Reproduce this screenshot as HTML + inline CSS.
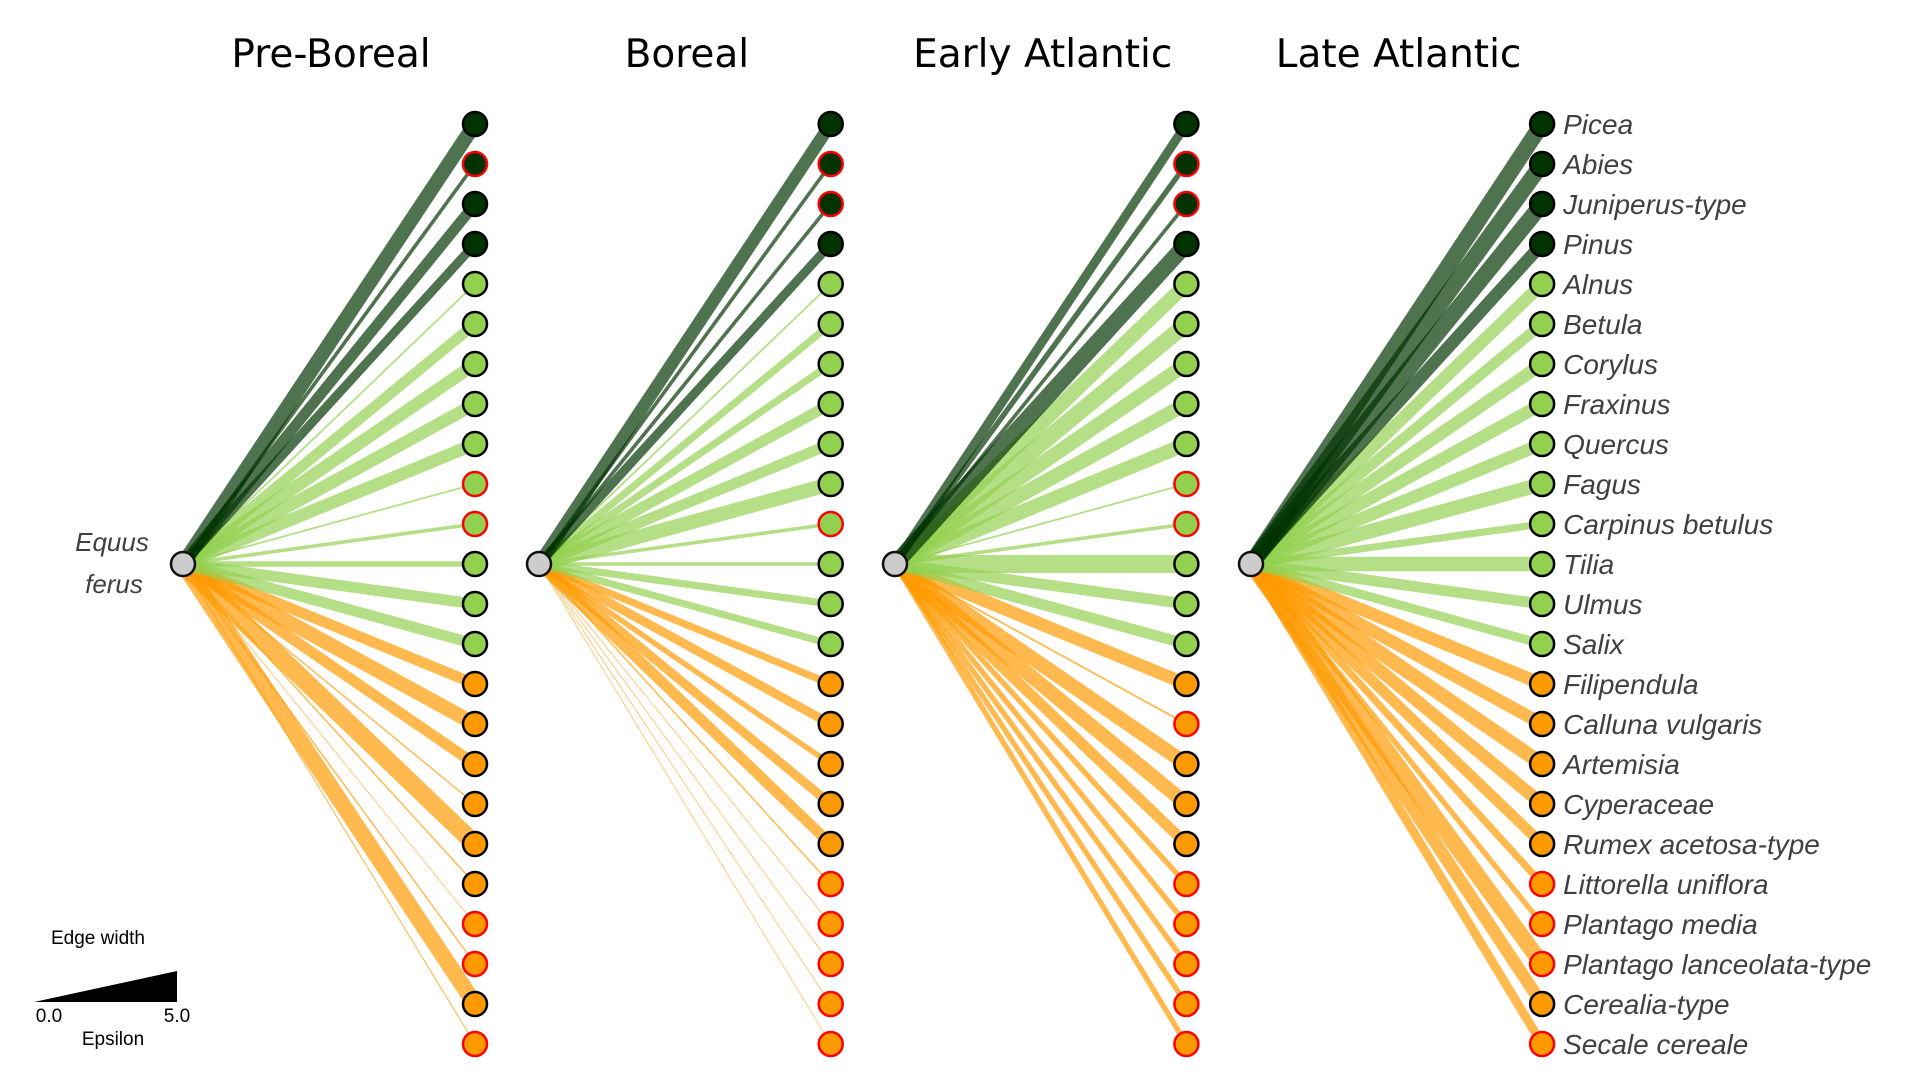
<!DOCTYPE html>
<html><head><meta charset="utf-8"><style>
html,body{margin:0;padding:0;background:#fff;width:1906px;height:1090px;overflow:hidden}
svg{display:block}
</style></head><body>
<svg id="chart" width="1906" height="1090" viewBox="0 0 1906 1090" xmlns="http://www.w3.org/2000/svg" font-family="Liberation Sans, sans-serif">
<g id="edges"></g>
<g id="nodes"></g>
<g id="labels"></g>
<text x="112" y="551" font-size="26" font-style="italic" fill="#404040" text-anchor="middle">Equus</text>
<text x="114" y="593" font-size="26" font-style="italic" fill="#404040" text-anchor="middle">ferus</text>
<g>
<text x="98" y="944" font-size="19" text-anchor="middle" fill="#000">Edge width</text>
<polygon points="34,1002 177,971 177,1002" fill="#000"/>
<text x="49" y="1022" font-size="19" text-anchor="middle" fill="#000">0.0</text>
<text x="177" y="1022" font-size="19" text-anchor="middle" fill="#000">5.0</text>
<text x="113" y="1045" font-size="19" text-anchor="middle" fill="#000">Epsilon</text>
</g>
</svg>
<script>
const periods = ["Pre-Boreal","Boreal","Early Atlantic","Late Atlantic"];
const taxa = ["Picea","Abies","Juniperus-type","Pinus","Alnus","Betula","Corylus","Fraxinus","Quercus","Fagus","Carpinus betulus","Tilia","Ulmus","Salix","Filipendula","Calluna vulgaris","Artemisia","Cyperaceae","Rumex acetosa-type","Littorella uniflora","Plantago media","Plantago lanceolata-type","Cerealia-type","Secale cereale"];
const groups = [0,0,0,0,1,1,1,1,1,1,1,1,1,1,2,2,2,2,2,2,2,2,2,2];
const epsPreBoreal = [4,1,3,2.5,0.5,3,3.5,3.5,3.5,0.5,1,1.5,3,3,3,4,3,0.4,5,0.4,0.2,0.4,4.5,0.3];
const epsBoreal = [3.5,1,1,2.5,0.5,2,2,3,3,4,1,1,2,2,2,2.5,1.5,2.5,3,0.4,0.2,0.2,0.2,0.2];
const epsEarlyAtl = [2.5,1.5,1,4.5,4,4.5,4,4,4,0.5,1,5,3,3,3.5,0.5,4,4,3,1.5,1.5,1.5,1.5,1.5];
const epsLateAtl = [4.5,4.5,4.5,3.5,3.5,3,3.5,3.5,3.5,4,2,4,3,2.5,3.5,3.5,4,3.5,3,2,1.5,4.5,3.5,2.5];
const redPreBoreal = [0,1,0,0,0,0,0,0,0,1,1,0,0,0,0,0,0,0,0,0,1,1,0,1];
const redBoreal = [0,1,1,0,0,0,0,0,0,0,1,0,0,0,0,0,0,0,0,1,1,1,1,1];
const redEarlyAtl = [0,1,1,0,0,0,0,0,0,1,1,0,0,0,0,1,0,0,0,1,1,1,1,1];
const redLateAtl = [0,0,0,0,0,0,0,0,0,0,0,0,0,0,0,0,0,0,0,1,1,1,0,1];

const eps = [epsPreBoreal, epsBoreal, epsEarlyAtl, epsLateAtl];
const reds = [redPreBoreal, redBoreal, redEarlyAtl, redLateAtl];
const NS = "http://www.w3.org/2000/svg";
const srcX = p => 183 + p*356;
const tgtX = p => 475 + p*355.7;
const yN = i => 124 + i*40.0;
const srcY = 564;
const wScale = v => v*3.6;
const edgeCol = ["#003300","#92d050","#ff9900"];
const nodeCol = ["#003300","#92d050","#ff9900"];
const eG = document.getElementById('edges');
const nG = document.getElementById('nodes');
const lG = document.getElementById('labels');
const svg = document.getElementById('chart');

periods.forEach((name,p)=>{
  const t = document.createElementNS(NS,'text');
  
  
  t.setAttribute('x', (srcX(p)+tgtX(p))/2 + 2);
  t.setAttribute('y', 67);
  t.setAttribute('font-size', 39);
  t.setAttribute('text-anchor','middle');
  t.setAttribute('font-family','DejaVu Sans, Liberation Sans, sans-serif');
  t.textContent = name;
  svg.appendChild(t);
  for(let i=taxa.length-1;i>=0;i--){
    const v = eps[p][i];
    if(v<=0) continue;
    const l = document.createElementNS(NS,'line');
    
    
    l.setAttribute('x1',srcX(p)); l.setAttribute('y1',srcY);
    l.setAttribute('x2',tgtX(p)); l.setAttribute('y2',yN(i));
    l.setAttribute('stroke',edgeCol[groups[i]]);
    l.setAttribute('stroke-opacity',0.69);
    l.setAttribute('stroke-width',Math.max(0.6,wScale(v)));
    eG.appendChild(l);
  }
  const s = document.createElementNS(NS,'circle');
  
  
  s.setAttribute('cx',srcX(p)); s.setAttribute('cy',srcY); s.setAttribute('r',12);
  s.setAttribute('fill','#cccccc'); s.setAttribute('stroke','#111'); s.setAttribute('stroke-width',2.5);
  nG.appendChild(s);
  taxa.forEach((tx,i)=>{
    const c = document.createElementNS(NS,'circle');
    
    
    c.setAttribute('cx',tgtX(p)); c.setAttribute('cy',yN(i)); c.setAttribute('r',12);
    c.setAttribute('fill',nodeCol[groups[i]]);
    c.setAttribute('stroke',reds[p][i]?'#ff0000':'#000');
    c.setAttribute('stroke-width',2.5);
    nG.appendChild(c);
    if(p===3){
      const lb = document.createElementNS(NS,'text');
      
      
      lb.setAttribute('x',tgtX(p)+21); lb.setAttribute('y',yN(i)+10);
      lb.setAttribute('font-size',28); lb.setAttribute('font-style','italic');
      lb.setAttribute('fill','#404040');
      lb.textContent = tx;
      lG.appendChild(lb);
    }
  });
});
</script>
</body></html>
